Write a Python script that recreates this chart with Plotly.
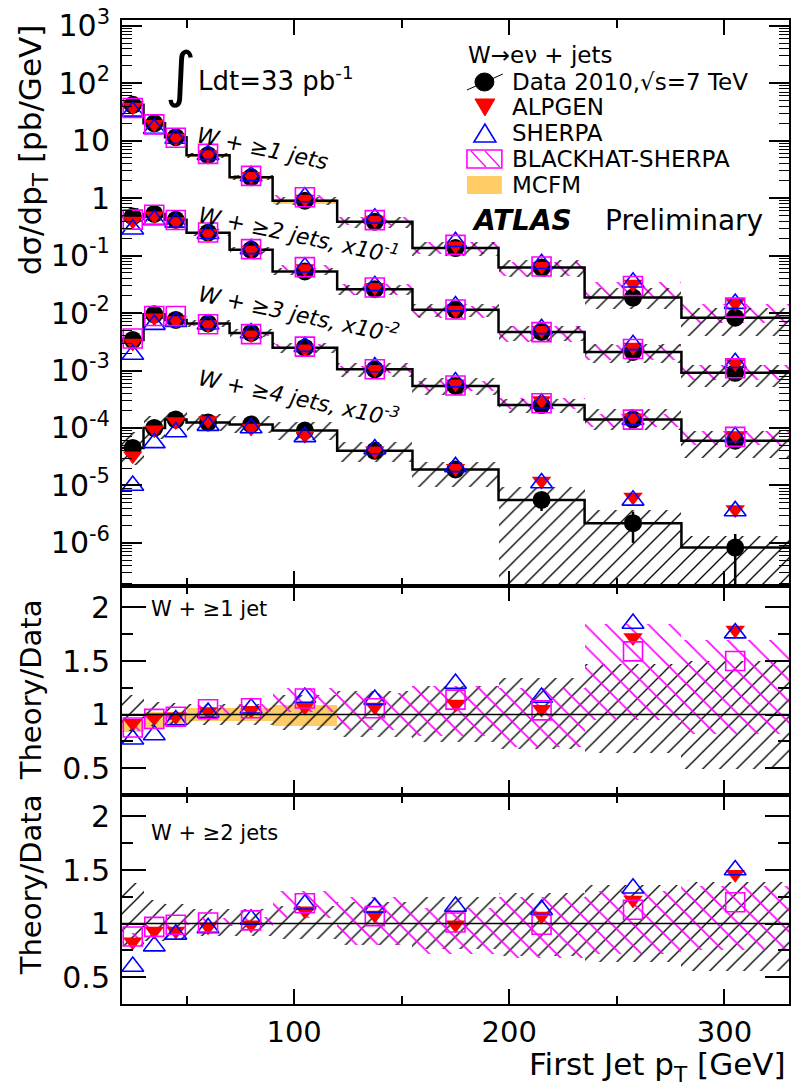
import plotly.graph_objects as go
from plotly.subplots import make_subplots

# ---------------- data ----------------
edges = [20, 30, 40, 50, 70, 90, 120, 155, 195, 235, 280, 330]

# top panel: plotted dsigma/dpT (W+>=2 x1e-1, W+>=3 x1e-2, W+>=4 x1e-3)
data1 = [42, 20, 11.5, 5.6, 2.3, 0.9, 0.39, 0.135, 0.062, 0.0186, 0.0083]
data2 = [0.48, 0.53, 0.42, 0.25, 0.126, 0.053, 0.026, 0.0114, 0.0047, 0.0021, 0.00091]
data3 = [3.4e-3, 9.5e-3, 7.6e-3, 6.6e-3, 4.5e-3, 2.5e-3, 1.05e-3, 5.4e-4, 2.5e-4, 1.4e-4, 6.0e-5]
data4 = [4.5e-5, 1.0e-4, 1.4e-4, 1.25e-4, 1.15e-4, 9.0e-5, 4.0e-5, 1.9e-5, 5.6e-6, 2.2e-6, 8.3e-7]
data4_err_up = [0, 0, 0, 0, 0, 0, 0, 0, 2.0e-6, 1.3e-6, 6.0e-7]
data4_err_dn = [0, 0, 0, 0, 0, 0, 0, 0, 2.0e-6, 1.2e-6, 8.2e-7]

alp3 = [3.0e-3, 8.3e-3, 7.4e-3, 6.3e-3, 4.2e-3, 2.4e-3, 1.05e-3, 5.9e-4, 3.0e-4, 1.5e-4, 7.4e-5]
she3 = [1.9e-3, 6.3e-3, 7.1e-3, 6.4e-3, 4.5e-3, 2.6e-3, 1.15e-3, 6.3e-4, 2.7e-4, 1.4e-4, 7.0e-5]
bh3 = [3.6e-3, 8.9e-3, 8.9e-3, 6.4e-3, 4.3e-3, 2.6e-3, 1.05e-3, 5.5e-4, 2.7e-4, 1.4e-4, 7.0e-5]
alp4 = [3.3e-5, 9.3e-5, 1.3e-4, 1.35e-4, 1.0e-4, 7.5e-5, 4.0e-5, 2.0e-5, 1.2e-5, 6.3e-6, 3.8e-6]
she4 = [1.0e-5, 5.5e-5, 8.5e-5, 1.1e-4, 1.0e-4, 7.0e-5, 4.3e-5, 2.1e-5, 1.1e-5, 5.5e-6, 3.6e-6]

# relative data uncertainty bands (W+>=3, W+>=4)
rel3_lo = [0.78, 0.82, 0.84, 0.85, 0.84, 0.80, 0.74, 0.69, 0.72, 0.67, 0.50]
rel3_hi = [1.28, 1.20, 1.18, 1.17, 1.18, 1.22, 1.30, 1.38, 1.30, 1.50, 1.45]
rel4_lo = [0.50, 0.65, 0.70, 0.72, 0.72, 0.70, 0.65, 0.50, 0.001, 0.001, 0.001]
rel4_hi = [1.90, 1.60, 1.35, 1.40, 1.40, 1.40, 1.40, 1.37, 1.70, 1.68, 1.60]
# BLACKHAT-SHERPA band for W+>=3 relative to its prediction
bh3_lo = [0.95, 0.95, 0.95, 0.94, 0.93, 0.90, 0.85, 0.80, 0.78, 0.75, 0.72]
bh3_hi = [1.05, 1.05, 1.05, 1.06, 1.07, 1.10, 1.15, 1.20, 1.22, 1.25, 1.28]

# ratio panel W+>=1 jet (theory/data)
r1_alp = [0.92, 0.97, 0.98, 1.03, 1.04, 1.07, 1.07, 1.10, 1.05, 1.72, 1.79]
r1_she = [0.77, 0.81, 0.95, 1.02, 1.06, 1.16, 1.14, 1.29, 1.16, 1.85, 1.76]
r1_bh = [0.88, 0.96, 0.98, 1.05, 1.06, 1.15, 1.06, 1.14, 1.04, 1.59, 1.50]
r1_data_lo = [0.85, 0.89, 0.90, 0.90, 0.90, 0.86, 0.79, 0.74, 0.68, 0.64, 0.49]
r1_data_hi = [1.18, 1.12, 1.11, 1.10, 1.10, 1.18, 1.22, 1.27, 1.34, 1.47, 1.50]
r1_bh_lo = [0.85, 0.93, 0.95, 1.00, 1.02, 1.02, 0.86, 0.80, 0.70, 0.95, 0.82]
r1_bh_hi = [0.92, 1.00, 1.02, 1.09, 1.10, 1.25, 1.20, 1.27, 1.25, 1.85, 1.70]
mcfm_lo = [0.84, 0.88, 0.89, 0.94, 0.94, 0.89]
mcfm_hi = [0.95, 1.02, 1.02, 1.06, 1.06, 1.09]

# ratio panel W+>=2 jets (theory/data)
r2_alp = [0.83, 0.93, 0.93, 0.97, 0.99, 1.12, 1.08, 0.99, 1.07, 1.22, 1.46]
r2_she = [0.60, 0.79, 0.90, 0.96, 1.04, 1.18, 1.15, 1.16, 1.13, 1.33, 1.50]
r2_bh = [0.88, 0.97, 0.99, 1.01, 1.03, 1.19, 1.07, 1.01, 0.99, 1.13, 1.20]
r2_data_lo = [0.79, 0.84, 0.86, 0.88, 0.88, 0.86, 0.80, 0.76, 0.70, 0.64, 0.56]
r2_data_hi = [1.38, 1.22, 1.18, 1.14, 1.14, 1.16, 1.20, 1.25, 1.29, 1.36, 1.39]
r2_bh_lo = [0.86, 0.94, 0.96, 0.99, 0.98, 1.05, 0.80, 0.72, 0.68, 0.72, 0.75]
r2_bh_hi = [0.91, 1.00, 1.03, 1.05, 1.06, 1.30, 1.25, 1.15, 1.25, 1.30, 1.35]

ytick_vals = [1e-6, 1e-5, 1e-4, 1e-3, 1e-2, 1e-1, 1, 10, 100, 1000]
ytick_text = ["10<sup>-6</sup>", "10<sup>-5</sup>", "10<sup>-4</sup>", "10<sup>-3</sup>",
              "10<sup>-2</sup>", "10<sup>-1</sup>", "1", "10", "10<sup>2</sup>", "10<sup>3</sup>"]
legend_labels = ["Data 2010,\u221as=7 TeV", "ALPGEN", "SHERPA", "BLACKHAT-SHERPA", "MCFM"]

# ---------------- helpers ----------------
centers = [(edges[i] + edges[i + 1]) / 2 for i in range(len(edges) - 1)]
widths = [edges[i + 1] - edges[i] for i in range(len(edges) - 1)]
FONT = "DejaVu Sans"
RED, BLUE, MAG, ORANGE = "#ff0000", "#0000ff", "#ff00ff", "#ffcc66"


def mul(a, b):
    return [x * y for x, y in zip(a, b)]


fig = make_subplots(rows=3, cols=1, vertical_spacing=0, row_heights=[566, 209, 209])


def band(lo, hi, row, color, shape, size, n=None, filled=False):
    n = n or len(lo)
    if filled:
        marker = dict(color=color, line=dict(width=0))
    else:
        marker = dict(color="rgba(0,0,0,0)", line=dict(width=0),
                      pattern=dict(shape=shape, fgcolor=color, bgcolor="rgba(0,0,0,0)",
                                   size=size, solidity=0.11, fillmode="overlay", fgopacity=1))
    fig.add_trace(go.Bar(x=centers[:n], y=[h - l for l, h in zip(lo[:n], hi[:n])], base=lo[:n],
                         width=widths[:n], marker=marker, showlegend=False,
                         hoverinfo="skip"), row=row, col=1)


def step(vals, row):
    fig.add_trace(go.Scatter(x=edges, y=list(vals) + [vals[-1]], mode="lines", line_shape="hv",
                             line=dict(color="black", width=2.5), showlegend=False,
                             hoverinfo="skip"), row=row, col=1)


def pts(vals, row, kind, err=None):
    sty = {
        "data": dict(symbol="circle", size=18, color="black"),
        "alp": dict(symbol="triangle-down", size=17, color=RED),
        "she": dict(symbol="triangle-up-open", size=19, color=BLUE, line=dict(width=1.6, color=BLUE)),
        "bh": dict(symbol="square-open", size=19, color=MAG, line=dict(width=1.6, color=MAG)),
    }[kind]
    kw = {}
    if err is not None:
        kw["error_y"] = dict(type="data", symmetric=False, array=err[0], arrayminus=err[1],
                             color="black", thickness=2.5, width=0)
    fig.add_trace(go.Scatter(x=centers, y=vals, mode="markers", marker=sty,
                             showlegend=False, hoverinfo="skip", **kw), row=row, col=1)


# ---------------- top panel ----------------
band(mul(data1, mcfm_lo), mul(data1, mcfm_hi), 1, ORANGE, "", 0, n=6, filled=True)
band(mul(data1, r1_bh_lo), mul(data1, r1_bh_hi), 1, MAG, "\\", 15)
band(mul(data2, r2_bh_lo), mul(data2, r2_bh_hi), 1, MAG, "\\", 15)
band(mul(bh3, bh3_lo), mul(bh3, bh3_hi), 1, MAG, "\\", 15)
band(mul(data1, r1_data_lo), mul(data1, r1_data_hi), 1, "black", "/", 12)
band(mul(data2, r2_data_lo), mul(data2, r2_data_hi), 1, "black", "/", 12)
band(mul(data3, rel3_lo), mul(data3, rel3_hi), 1, "black", "/", 12)
band(mul(data4, rel4_lo), mul(data4, rel4_hi), 1, "black", "/", 12)
for d in (data1, data2, data3, data4):
    step(d, 1)
pts(data1, 1, "data")
pts(data2, 1, "data")
pts(data3, 1, "data")
pts(data4, 1, "data", err=(data4_err_up, data4_err_dn))
pts(mul(data1, r1_alp), 1, "alp")
pts(mul(data2, r2_alp), 1, "alp")
pts(alp3, 1, "alp")
pts(alp4, 1, "alp")
pts(mul(data1, r1_she), 1, "she")
pts(mul(data2, r2_she), 1, "she")
pts(she3, 1, "she")
pts(she4, 1, "she")
pts(mul(data1, r1_bh), 1, "bh")
pts(mul(data2, r2_bh), 1, "bh")
pts(bh3, 1, "bh")

# ---------------- ratio W+>=1 ----------------
band(mcfm_lo, mcfm_hi, 2, ORANGE, "", 0, n=6, filled=True)
band(r1_data_lo, r1_data_hi, 2, "black", "/", 12)
band(r1_bh_lo, r1_bh_hi, 2, MAG, "\\", 15)
pts(r1_alp, 2, "alp")
pts(r1_she, 2, "she")
pts(r1_bh, 2, "bh")

# ---------------- ratio W+>=2 ----------------
band(r2_data_lo, r2_data_hi, 3, "black", "/", 12)
band(r2_bh_lo, r2_bh_hi, 3, MAG, "\\", 15)
pts(r2_alp, 3, "alp")
pts(r2_she, 3, "she")
pts(r2_bh, 3, "bh")

for ref in ("2", "3"):
    fig.add_shape(type="line", xref="x" + ref, yref="y" + ref, x0=edges[0], x1=edges[-1], y0=1, y1=1,
                  line=dict(color="black", width=1.5))

# ---------------- axes ----------------
xcommon = dict(range=[20, 330], showline=True, linewidth=2, linecolor="black", mirror="ticks",
               ticks="inside", ticklen=15, tickwidth=1.5, tickcolor="black", dtick=100, tick0=0,
               minor=dict(ticks="inside", ticklen=8, dtick=50, tick0=0, tickcolor="black", tickwidth=1.5),
               showgrid=False, zeroline=False)
fig.update_layout(
    xaxis=dict(**xcommon, showticklabels=False),
    xaxis2=dict(**xcommon, showticklabels=False),
    xaxis3=dict(**xcommon, showticklabels=True, tickfont=dict(size=29, family=FONT, color="black"),
                ticklabelstandoff=1),
)
ycommon = dict(showline=True, linewidth=2, linecolor="black", mirror="ticks", ticks="inside",
               tickwidth=1.5, tickcolor="black", showgrid=False, zeroline=False,
               tickfont=dict(size=30, family=FONT, color="black"), ticklabelstandoff=4)
fig.update_layout(
    yaxis=dict(**ycommon, type="log", range=[-6.75, 3.1], domain=[0.4248, 1.0], tickmode="array",
               tickvals=ytick_vals, ticktext=ytick_text, ticklen=20,
               minor=dict(ticks="inside", ticklen=10, dtick="D1", tickcolor="black", tickwidth=1.2)),
    yaxis2=dict(**ycommon, range=[0.25, 2.2], domain=[0.2124, 0.4248], tickmode="array",
                tickvals=[0.5, 1, 1.5, 2], ticktext=["0.5", "1", "1.5", "2"], ticklen=24,
                minor=dict(ticks="inside", ticklen=11, dtick=0.25, tick0=0, tickcolor="black", tickwidth=1.5)),
    yaxis3=dict(**ycommon, range=[0.25, 2.2], domain=[0.0, 0.2124], tickmode="array",
                tickvals=[0.5, 1, 1.5, 2], ticktext=["0.5", "1", "1.5", "2"], ticklen=24,
                minor=dict(ticks="inside", ticklen=11, dtick=0.25, tick0=0, tickcolor="black", tickwidth=1.5)),
)


def px2x(px):
    return (px - 122) / 669


def py2y(py):
    return (1004 - py) / 984


ann = []


def text(t, px, py, size, xanchor="center", angle=0, yanchor="middle"):
    ann.append(dict(text=t, x=px2x(px), y=py2y(py), xref="paper", yref="paper", showarrow=False,
                    xanchor=xanchor, yanchor=yanchor, textangle=angle,
                    font=dict(family=FONT, size=size, color="black")))


text("d\u03c3/dp<sub>T</sub> [pb/GeV]", 33, 150, 31, angle=-90)
text("Theory/Data", 31, 690, 29, angle=-90)
text("Theory/Data", 31, 885, 29, angle=-90)
text("First Jet p<sub>T</sub> [GeV]", 790, 1066, 31, xanchor="right")
text("\u222b", 181, 74, 60)
text("Ldt=33 pb<sup>-1</sup>", 196, 79, 26, xanchor="left")
text("<i>W + \u22651 jets</i>", 263, 148, 22, angle=12)
text("<i>W + \u22652 jets, x10<sup>-1</sup></i>", 300, 234, 22, angle=12)
text("<i>W + \u22653 jets, x10<sup>-2</sup></i>", 300, 313, 22, angle=12)
text("<i>W + \u22654 jets, x10<sup>-3</sup></i>", 300, 397, 22, angle=12)
text("<b><i>ATLAS</i></b>", 471, 221, 28, xanchor="left")
text("Preliminary", 604, 221, 28, xanchor="left")
text("W + \u22651 jet", 149, 609, 21, xanchor="left")
text("W + \u22652 jets", 149, 833, 21, xanchor="left")

# legend (drawn as layout decoration)
text("W\u2192e\u03bd + jets", 467, 55, 23, xanchor="left")
leg_rows = [82, 107, 133, 159, 185]
for lab, yy in zip(legend_labels, leg_rows):
    text(lab, 511, yy, 23, xanchor="left")

shapes = []


def pshape(**kw):
    kw.setdefault("xref", "paper")
    kw.setdefault("yref", "paper")
    shapes.append(kw)


def tri(pts_px, **style):
    path = "M " + " L ".join(f"{px2x(a):.5f},{py2y(b):.5f}" for a, b in pts_px) + " Z"
    pshape(type="path", path=path, **style)


# data symbol: hatch stroke + circle
pshape(type="line", x0=px2x(468), y0=py2y(90), x1=px2x(504), y1=py2y(74), line=dict(color="black", width=1))
pshape(type="circle", x0=px2x(476), x1=px2x(495), y0=py2y(91), y1=py2y(73),
       fillcolor="black", line=dict(color="black", width=1))
tri([(476, 99), (496, 99), (486, 116)], fillcolor=RED, line=dict(color=RED, width=1))
tri([(475, 142), (497, 142), (486, 124)], fillcolor="rgba(0,0,0,0)", line=dict(color=BLUE, width=1.6))
pshape(type="rect", x0=px2x(468), x1=px2x(503), y0=py2y(168), y1=py2y(150),
       line=dict(color=MAG, width=1.6), fillcolor="rgba(0,0,0,0)")
pshape(type="line", x0=px2x(472), y0=py2y(151), x1=px2x(487), y1=py2y(167), line=dict(color=MAG, width=1.2))
pshape(type="line", x0=px2x(486), y0=py2y(151), x1=px2x(501), y1=py2y(167), line=dict(color=MAG, width=1.2))
pshape(type="rect", x0=px2x(468), x1=px2x(503), y0=py2y(194), y1=py2y(176),
       line=dict(width=0), fillcolor=ORANGE)

fig.update_layout(
    width=794, height=1086, margin=dict(l=122, r=3, t=20, b=82),
    paper_bgcolor="white", plot_bgcolor="white", barmode="overlay", bargap=0,
    font=dict(family=FONT, color="black"), showlegend=False,
    annotations=ann,
)
for s in shapes:
    fig.add_shape(**s)

fig.write_html("out.html")
